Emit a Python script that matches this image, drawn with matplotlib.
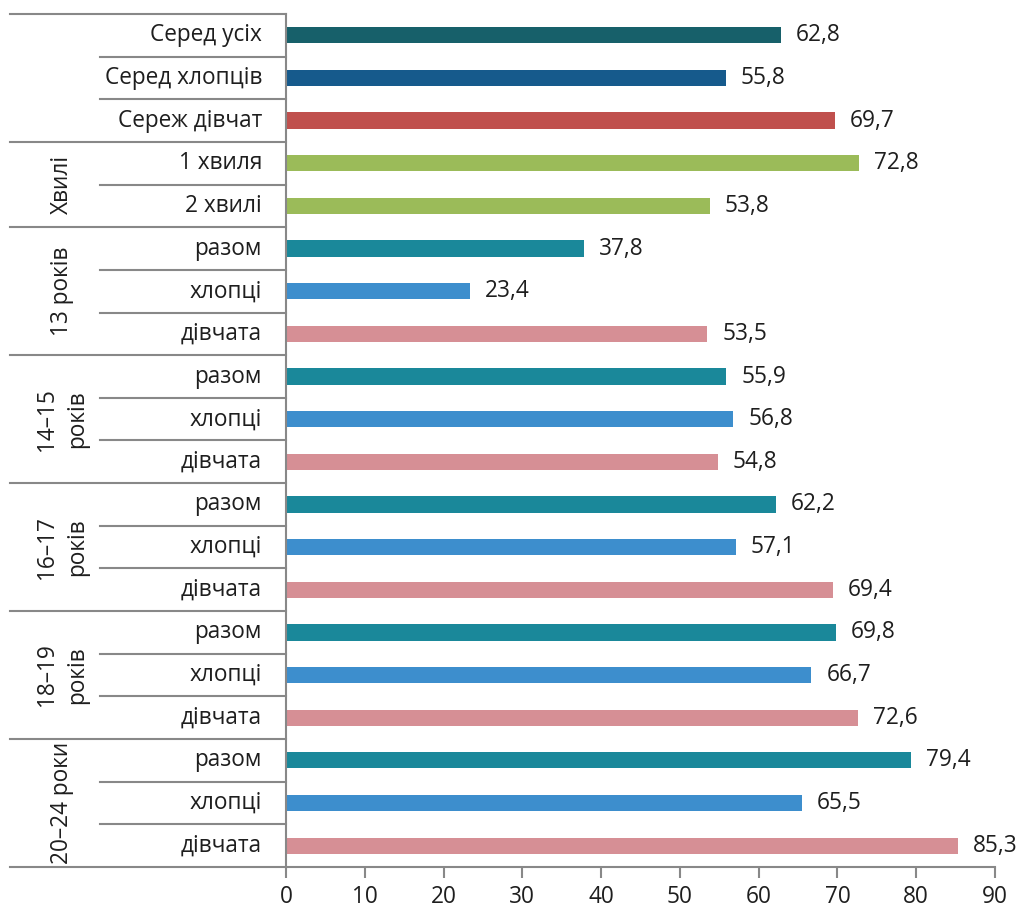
import numpy as np
import matplotlib.pyplot as plt
from matplotlib.transforms import blended_transform_factory

plt.rcParams['font.family'] = ['Open Sans', 'DejaVu Sans']

labels = ["Серед усіх", "Серед хлопців", "Сереж дівчат",
          "1 хвиля", "2 хвилі",
          "разом", "хлопці", "дівчата",
          "разом", "хлопці", "дівчата",
          "разом", "хлопці", "дівчата",
          "разом", "хлопці", "дівчата",
          "разом", "хлопці", "дівчата"]
values = [62.8, 55.8, 69.7,
          72.8, 53.8,
          37.8, 23.4, 53.5,
          55.9, 56.8, 54.8,
          62.2, 57.1, 69.4,
          69.8, 66.7, 72.6,
          79.4, 65.5, 85.3]
groups = ["", "Хвилі", "13 років", "14–15\nроків", "16–17\nроків", "18–19\nроків", "20–24 роки"]
group_sizes = [3, 2, 3, 3, 3, 3, 3]

c_all, c_boys, c_girls = "#17606a", "#165a8c", "#c0504d"
c_wave = "#9bbb59"
c_tot, c_b, c_g = "#1a889a", "#3d8ecd", "#d68f95"
colors = [c_all, c_boys, c_girls, c_wave, c_wave] + [c_tot, c_b, c_g] * 5

fs = 16.3
tc = "#1e1e1e"

fig = plt.figure(figsize=(10.21, 9.13), dpi=100)
ax = fig.add_axes([0.2801, 0.0504, 0.6944, 0.9343])

n = len(values)
y = np.arange(n)
ax.barh(y, values, height=0.38, color=colors)
for yi, v in zip(y, values):
    ax.text(v + 1.9, yi, f"{v:.1f}".replace(".", ","), va="center", ha="left",
            fontsize=fs, color=tc)

ax.set_ylim(n - 0.5, -0.5)
ax.set_xlim(0, 90)
ax.set_xticks(np.arange(0, 91, 10))
ax.tick_params(axis="x", labelsize=fs, colors=tc, length=8, width=1.5,
               color="#888888", pad=5)
ax.set_yticks([])
for s in ["top", "right"]:
    ax.spines[s].set_visible(False)
for s in ["left", "bottom"]:
    ax.spines[s].set_color("#888888")
    ax.spines[s].set_linewidth(1.5)

tr = blended_transform_factory(ax.transAxes, ax.transData)
gray = "#888888"
# row labels and separators
for yi, lab in zip(y, labels):
    ax.text(-0.034, yi, lab, transform=tr, ha="right", va="center",
            fontsize=fs, color=tc)
start = 0
ax.plot([-0.389, 0], [-0.5, -0.5], transform=tr, color=gray, lw=1.5, clip_on=False)
for g, size in zip(groups, group_sizes):
    for k in range(1, size):
        ax.plot([-0.262, 0], [start + k - 0.5] * 2, transform=tr, color=gray, lw=1.5, clip_on=False)
    end = start + size
    ax.plot([-0.389, 0], [end - 0.5] * 2, transform=tr, color=gray, lw=1.5, clip_on=False)
    if g:
        ax.text(-0.316, (start + end - 1) / 2, g, transform=tr, rotation=90,
                ha="center", va="center", multialignment="center",
                fontsize=fs, color=tc, linespacing=1.3)
    start = end

fig.savefig("out.png", dpi=100)
